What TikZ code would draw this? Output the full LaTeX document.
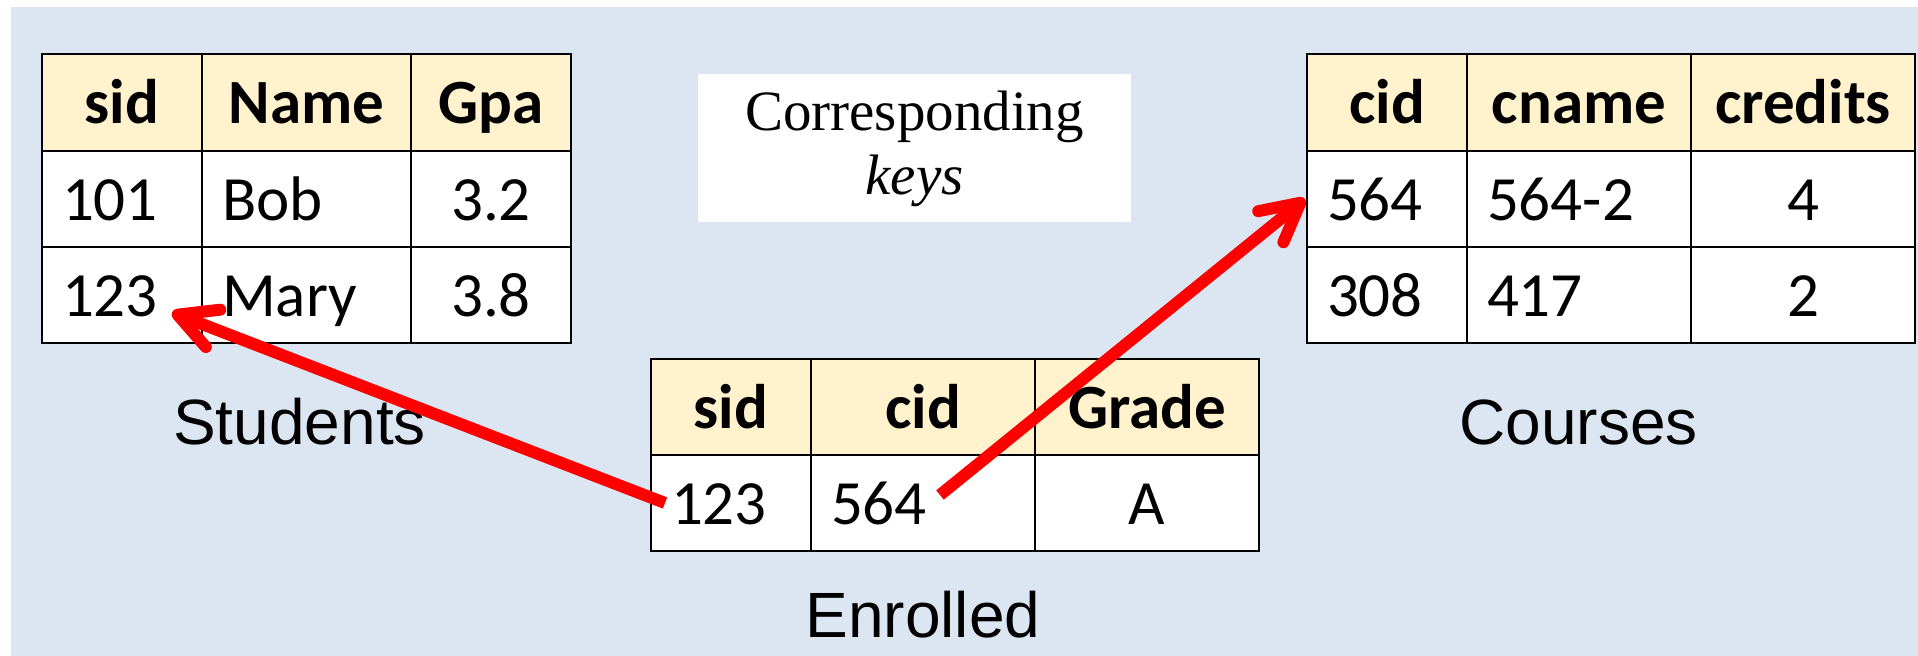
\documentclass[tikz,border=0pt]{standalone}
\usepackage{fontspec}
\setmainfont{Liberation Serif}
\newfontfamily\cellfont{Carlito}
\newfontfamily\labelfont{Liberation Sans}
\usetikzlibrary{arrows.meta}

\definecolor{bgblue}{HTML}{DCE6F2}
\definecolor{headyellow}{HTML}{FFF2CC}

\tikzset{x=0.5pt, y=-0.5pt,
    bodycell/.style={draw, line width=1.2pt, fill=white, anchor=north west, outer sep=0pt,
        inner xsep=10pt, inner ysep=0pt, minimum height=48pt,
        text height=27.5pt, text depth=6pt, align=left,
        font=\cellfont\fontsize{31.5}{37}\selectfont},
    headcell/.style={bodycell, fill=headyellow, align=center, minimum height=48.5pt,
        font=\cellfont\bfseries\fontsize{31.5}{37}\selectfont},
    tablename/.style={anchor=base, font=\labelfont\fontsize{32}{38}\selectfont},
    keybox/.style={fill=white, minimum width=216.5pt, minimum height=74pt, inner sep=0pt,
        align=center, font=\fontsize{28.5}{32}\selectfont},
    fk/.style={draw=red, line width=6pt, -{Straight Barb[length=19pt,width=20pt,round]}}
}

\begin{document}
\begin{tikzpicture}
    \useasboundingbox (0,0) rectangle (1918,656);
    \fill[white] (0,0) rectangle (1918,656);
    \fill[bgblue] (11,7) rectangle (1918,656);

    % Students
    \foreach \x/\w/\lab [count=\i] in {42/60/sid, 202/84.5/Name, 411/60/Gpa}
        \node[headcell, text width=\w pt] (s-1-\i) at (\x,54) {\lab};
    \foreach \y/\ka/\kb/\kc [count=\j from 2] in {151/101/Bob/3.2, 247/123/Mary/3.8} {
        \node[bodycell, text width=60pt] (s-\j-1) at (42,\y) {\ka};
        \node[bodycell, text width=84.5pt] (s-\j-2) at (202,\y) {\kb};
        \node[bodycell, text width=60pt, align=center] (s-\j-3) at (411,\y) {\kc};
    }
    \node[tablename] (stud) at (299.5,445) {Students};

    % Enrolled
    \foreach \x/\w/\lab [count=\i] in {651/60/sid, 811/92/cid, 1035/92/Grade}
        \node[headcell, text width=\w pt] (e-1-\i) at (\x,359) {\lab};
    \node[bodycell, text width=60pt] (e-2-1) at (651,455) {123};
    \node[bodycell, text width=92pt] (e-2-2) at (811,455) {564};
    \node[bodycell, text width=92pt, align=center] (e-2-3) at (1035,455) {A};
    \node[tablename] (enr) at (923,638) {Enrolled};

    % Courses
    \foreach \x/\w/\lab [count=\i] in {1307/60/cid, 1467/92/cname, 1691/92/credits}
        \node[headcell, text width=\w pt] (c-1-\i) at (\x,54) {\lab};
    \foreach \y/\ka/\kb/\kc [count=\j from 2] in {151/564/564-2/4, 247/308/417/2} {
        \node[bodycell, text width=60pt] (c-\j-1) at (1307,\y) {\ka};
        \node[bodycell, text width=92pt] (c-\j-2) at (1467,\y) {\kb};
        \node[bodycell, text width=92pt, align=center] (c-\j-3) at (1691,\y) {\kc};
    }
    \node[tablename] (crs) at (1578.5,445) {Courses};

    \node[keybox] (keys) at (914.5,148.5) {Corresponding\\\textit{keys}};

    % foreign keys
    \draw[fk] ([xshift=7pt]e-2-1.west) -- ([xshift=-15pt,yshift=2pt]s-3-1.base east);
    \draw[fk] ([xshift=8.5pt,yshift=4pt]e-2-2.center) -- ([xshift=-1pt]c-2-1.west);
\end{tikzpicture}
\end{document}
